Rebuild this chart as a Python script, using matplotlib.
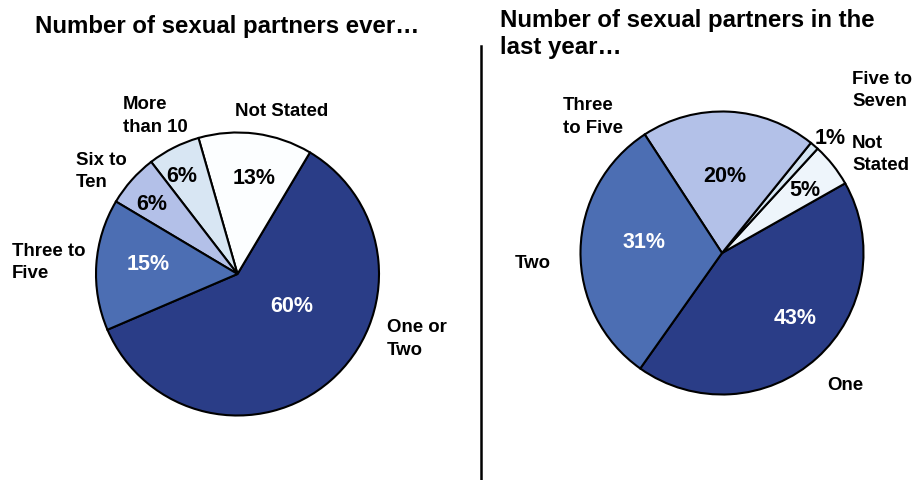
import matplotlib
matplotlib.use("Agg")
import matplotlib.pyplot as plt

# ── Data ────────────────────────────────────────────────────────────

# partners ever (counter-clockwise order from start angle)
ever_labels = ["One or\nTwo", "Not Stated", "More\nthan 10", "Six to\nTen", "Three to\nFive"]
ever_values = [60, 13, 6, 6, 15]
ever_colors = ["#2A3D87", "#FCFEFF", "#D8E6F3", "#B3C0E8", "#4C6EB3"]

# partners in the last year
year_labels = ["One", "Not\nStated", "Five to\nSeven", "Three\nto Five", "Two"]
year_values = [43, 5, 1, 20, 31]
year_colors = ["#2A3D87", "#EEF5FB", "#D6E6F3", "#B3C1E8", "#4C6EB3"]

W, H = 914, 481
plt.rcParams["font.family"] = ["Liberation Sans", "DejaVu Sans"]
plt.rcParams["font.weight"] = "bold"

fig = plt.figure(figsize=(W / 100, H / 100), dpi=100)


def pie_axes(cx, cy, r):
    ax = fig.add_axes([(cx - r) / W, (H - cy - r) / H, 2 * r / W, 2 * r / H])
    ax.set_axis_off()
    return ax


def ftext(x, y, s, **kw):
    # place text by pixel position (x from left, y from top)
    fig.text(x / W, 1 - y / H, s, fontweight="bold", **kw)


def draw_pie(ax, values, colors, start, pct_pos, pct_colors):
    ax.pie(values, colors=colors, startangle=start, radius=1.0,
           wedgeprops={"edgecolor": "black", "linewidth": 1.5})
    ax.set_xlim(-1, 1)
    ax.set_ylim(-1, 1)
    for v, (x, y), c in zip(values, pct_pos, pct_colors):
        ftext(x, y, f"{v}%", fontsize=15.5, color=c, ha="center", va="center")


# ── Left pie ────────────────────────────────────────────────────────
ax1 = pie_axes(237.5, 275, 141.5)
draw_pie(ax1, ever_values, ever_colors, 203.2,
         [(292, 307), (254, 179), (182, 177), (152, 205), (148, 265)],
         ["white", "black", "black", "black", "white"])

ever_label_pos = [(387, 339), (235, 112), (123, 116), (76, 171.5), (12, 262.5)]
for lab, (x, y) in zip(ever_labels, ever_label_pos):
    ftext(x, y, lab, fontsize=13.4, ha="left", va="center", linespacing=1.4)

ftext(35, 27, "Number of sexual partners ever\u2026", fontsize=17.3,
      ha="left", va="center")

# ── Right pie ───────────────────────────────────────────────────────
ax2 = pie_axes(722, 254, 141.5)
draw_pie(ax2, year_values, year_colors, 234.7,
         [(795, 319), (805, 191), (830, 138), (725, 177), (644, 243)],
         ["white", "black", "black", "black", "white"])

year_label_pos = [(827, 386), (852, 154.5), (852, 90.5), (563, 117), (515, 264)]
for lab, (x, y) in zip(year_labels, year_label_pos):
    ftext(x, y, lab, fontsize=13.4, ha="left", va="center", linespacing=1.4)

ftext(500, 34, "Number of sexual partners in the\nlast year\u2026", fontsize=17.3,
      ha="left", va="center", linespacing=1.2)

# divider
fig.add_artist(plt.Line2D([481 / W, 481 / W], [0, 1 - 47 / H],
                          color="black", linewidth=1.8))

fig.savefig("out.png", dpi=100)
